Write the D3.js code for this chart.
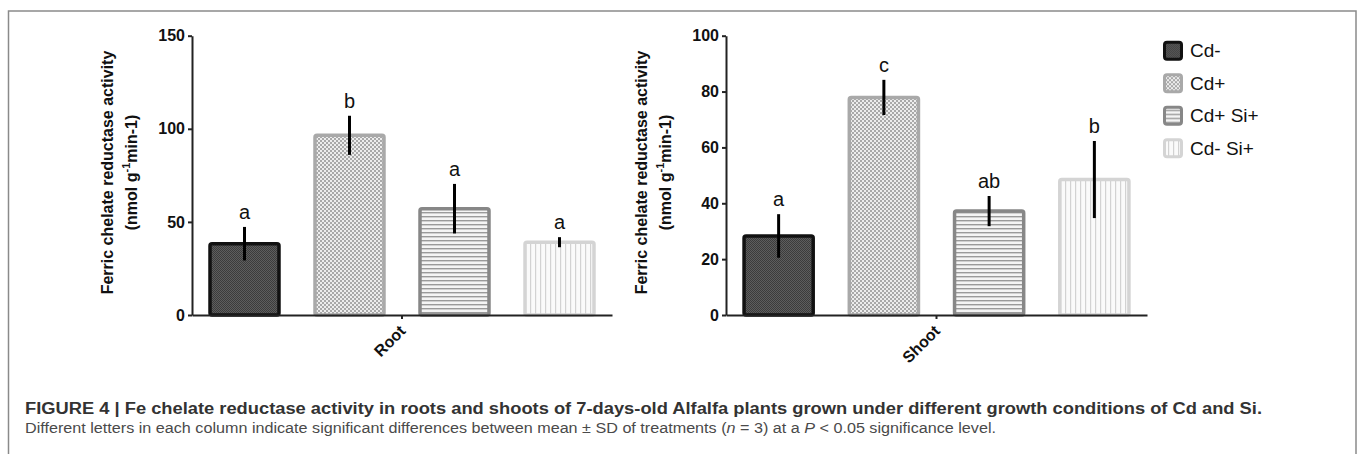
<!DOCTYPE html>
<html><head><meta charset="utf-8">
<script src="https://cdn.jsdelivr.net/npm/d3@7"></script>
<style>
html,body{margin:0;padding:0;background:#fff;}
svg{display:block;font-family:"Liberation Sans",Arial,Helvetica,sans-serif;}
</style></head>
<body>
<svg id="chart" width="1358" height="454"></svg>
<script>
// ---- data ----
const categories = ["Root", "Shoot"];
const seriesNames = ["Cd-", "Cd+", "Cd+ Si+", "Cd- Si+"];
const rootMeans = [38.3, 96.5, 57.1, 39.1];
const rootSD = [9.0, 10.5, 13.3, 2.7];
const rootLetters = ["a", "b", "a", "a"];
const shootMeans = [28.3, 77.9, 37.2, 48.5];
const shootSD = [7.8, 6.3, 5.4, 13.8];
const shootLetters = ["a", "c", "ab", "b"];
const rootTicks = [0, 50, 100, 150];
const shootTicks = [0, 20, 40, 60, 80, 100];
const captionTitle = "FIGURE 4 | Fe chelate reductase activity in roots and shoots of 7-days-old Alfalfa plants grown under different growth conditions of Cd and Si.";

const svg = d3.select("#chart");
const defs = svg.append("defs");

// patterns
function pat(id, w, h, bg, draw) {
  const p = defs.append("pattern").attr("id", id).attr("patternUnits", "userSpaceOnUse")
    .attr("width", w).attr("height", h);
  p.append("rect").attr("width", w).attr("height", h).attr("fill", bg);
  draw(p);
}
pat("p0", 2, 2, "#5e5e5e", p => {
  p.append("rect").attr("x", 0).attr("y", 0).attr("width", 1).attr("height", 1).attr("fill", "#3c3c3c");
  p.append("rect").attr("x", 1).attr("y", 1).attr("width", 1).attr("height", 1).attr("fill", "#3c3c3c");
});
pat("p1", 4, 4, "#ededed", p => {
  p.append("rect").attr("x", 0).attr("y", 0).attr("width", 2).attr("height", 2).attr("fill", "#a9a9a9");
  p.append("rect").attr("x", 2).attr("y", 2).attr("width", 2).attr("height", 2).attr("fill", "#a9a9a9");
});
pat("p2", 4, 4, "#f4f4f4", p => {
  p.append("rect").attr("x", 0).attr("y", 0).attr("width", 4).attr("height", 1.4).attr("fill", "#9a9a9a");
});
pat("p3", 5, 5, "#fafafa", p => {
  p.append("rect").attr("x", 0).attr("y", 0).attr("width", 1.2).attr("height", 5).attr("fill", "#d2d2d2");
});
const fills = ["url(#p0)", "url(#p1)", "url(#p2)", "url(#p3)"];
const strokes = ["#111111", "#a9a9a9", "#878787", "#d4d4d4"];

// frame
svg.append("rect").attr("x", 8.5).attr("y", 11).attr("width", 1347.5).attr("height", 500)
  .attr("fill", "none").attr("stroke", "#8a8a8a").attr("stroke-width", 1.5);

function panel(cfg) {
  const g = svg.append("g");
  const y = d3.scaleLinear().domain([0, d3.max(cfg.ticks)]).range([315, 35.7]);
  const x = d3.scaleBand().domain(seriesNames).range([cfg.x0, cfg.x1]).paddingInner(0.343).paddingOuter(0.1715);
  const xc = d3.scaleBand().domain([cfg.category]).range([cfg.x0, cfg.x1]);

  // bars
  g.selectAll("rect.bar").data(cfg.means).join("rect").attr("class", "bar")
    .attr("x", (d, i) => x(seriesNames[i]))
    .attr("width", x.bandwidth())
    .attr("y", d => y(d))
    .attr("height", d => y(0) - y(d))
    .attr("rx", 2)
    .attr("fill", (d, i) => fills[i])
    .attr("stroke", (d, i) => strokes[i])
    .attr("stroke-width", 3.5);

  // error bars
  g.selectAll("line.err").data(cfg.means).join("line").attr("class", "err")
    .attr("x1", (d, i) => x(seriesNames[i]) + x.bandwidth() / 2)
    .attr("x2", (d, i) => x(seriesNames[i]) + x.bandwidth() / 2)
    .attr("y1", (d, i) => y(d - cfg.sd[i]))
    .attr("y2", (d, i) => y(d + cfg.sd[i]))
    .attr("stroke", "#000").attr("stroke-width", 3);

  // letters
  g.selectAll("text.let").data(cfg.means).join("text").attr("class", "let")
    .attr("x", (d, i) => x(seriesNames[i]) + x.bandwidth() / 2)
    .attr("y", (d, i) => y(d + cfg.sd[i]) - 8)
    .attr("text-anchor", "middle").attr("font-size", 20).attr("fill", "#111")
    .text((d, i) => cfg.letters[i]);

  // y axis
  const ya = g.append("g").attr("transform", `translate(${cfg.x0},0)`)
    .call(d3.axisLeft(y).tickValues(cfg.ticks).tickSize(4).tickSizeOuter(0).tickPadding(3));
  ya.select(".domain").attr("stroke", "#222").attr("stroke-width", 2);
  ya.selectAll(".tick line").attr("stroke", "#222").attr("stroke-width", 2);
  ya.selectAll(".tick text").attr("font-size", 16).attr("font-weight", "bold").attr("fill", "#111")
    .attr("font-family", "'Liberation Sans',Arial,sans-serif");

  // x axis
  const xa = g.append("g").attr("transform", `translate(0,${y(0)})`)
    .call(d3.axisBottom(xc).tickSize(4).tickSizeOuter(0).tickFormat(""));
  xa.select(".domain").attr("stroke", "#222").attr("stroke-width", 2);
  xa.selectAll(".tick line").attr("stroke", "#222").attr("stroke-width", 2);
  g.append("text")
    .attr("transform", `translate(${xc(cfg.category) + xc.bandwidth() / 2 + 4.5},${y(0) + 17}) rotate(-45)`)
    .attr("text-anchor", "end").attr("font-size", 16).attr("font-weight", "bold").attr("fill", "#111")
    .text(cfg.category);

  // y title
  const cy = 172.5;
  g.append("text")
    .attr("transform", `translate(${cfg.x0 - 79},${cy}) rotate(-90)`)
    .attr("text-anchor", "middle").attr("font-size", 16).attr("font-weight", "bold").attr("fill", "#111")
    .text("Ferric chelate reductase activity");
  const t2 = g.append("text")
    .attr("transform", `translate(${cfg.x0 - 55},${cy}) rotate(-90)`)
    .attr("text-anchor", "middle").attr("font-size", 16).attr("font-weight", "bold").attr("fill", "#111");
  t2.append("tspan").text("(nmol g");
  t2.append("tspan").attr("font-size", 11).attr("dy", -7).text("-1");
  t2.append("tspan").attr("dy", 7).text("min-1)");
}

panel({ x0: 192, x1: 612, ticks: rootTicks, means: rootMeans, sd: rootSD, letters: rootLetters, category: categories[0] });
panel({ x0: 726, x1: 1147, ticks: shootTicks, means: shootMeans, sd: shootSD, letters: shootLetters, category: categories[1] });

// legend
const lg = svg.append("g").attr("transform", "translate(1163,40.7)");
const items = lg.selectAll("g").data(seriesNames).join("g")
  .attr("transform", (d, i) => `translate(0,${i * 32.5})`);
items.append("rect").attr("x", 1.5).attr("y", 1.5).attr("width", 17).attr("height", 17).attr("rx", 2.5)
  .attr("fill", (d, i) => fills[i]).attr("stroke", (d, i) => strokes[i]).attr("stroke-width", 3);
items.append("text").attr("x", 27).attr("y", 10).attr("dy", "0.35em")
  .attr("font-size", 19).attr("fill", "#111")
  .attr("font-family", "'Liberation Sans',Arial,sans-serif")
  .text(d => d);

// caption
svg.append("text").attr("x", 25).attr("y", 414).attr("font-size", 16).attr("font-weight", "bold")
  .attr("fill", "#333").attr("textLength", 1237).attr("lengthAdjust", "spacingAndGlyphs")
  .text(captionTitle);

const c2 = svg.append("text").attr("x", 25).attr("y", 433).attr("font-size", 15.5).attr("fill", "#4a4a4a")
  .attr("textLength", 971).attr("lengthAdjust", "spacingAndGlyphs");
c2.append("tspan").text("Different letters in each column indicate significant differences between mean \u00b1 SD of treatments (");
c2.append("tspan").attr("font-style", "italic").text("n");
c2.append("tspan").text(" = 3) at a ");
c2.append("tspan").attr("font-style", "italic").text("P");
c2.append("tspan").text(" < 0.05 significance level.");
</script>
</body></html>
